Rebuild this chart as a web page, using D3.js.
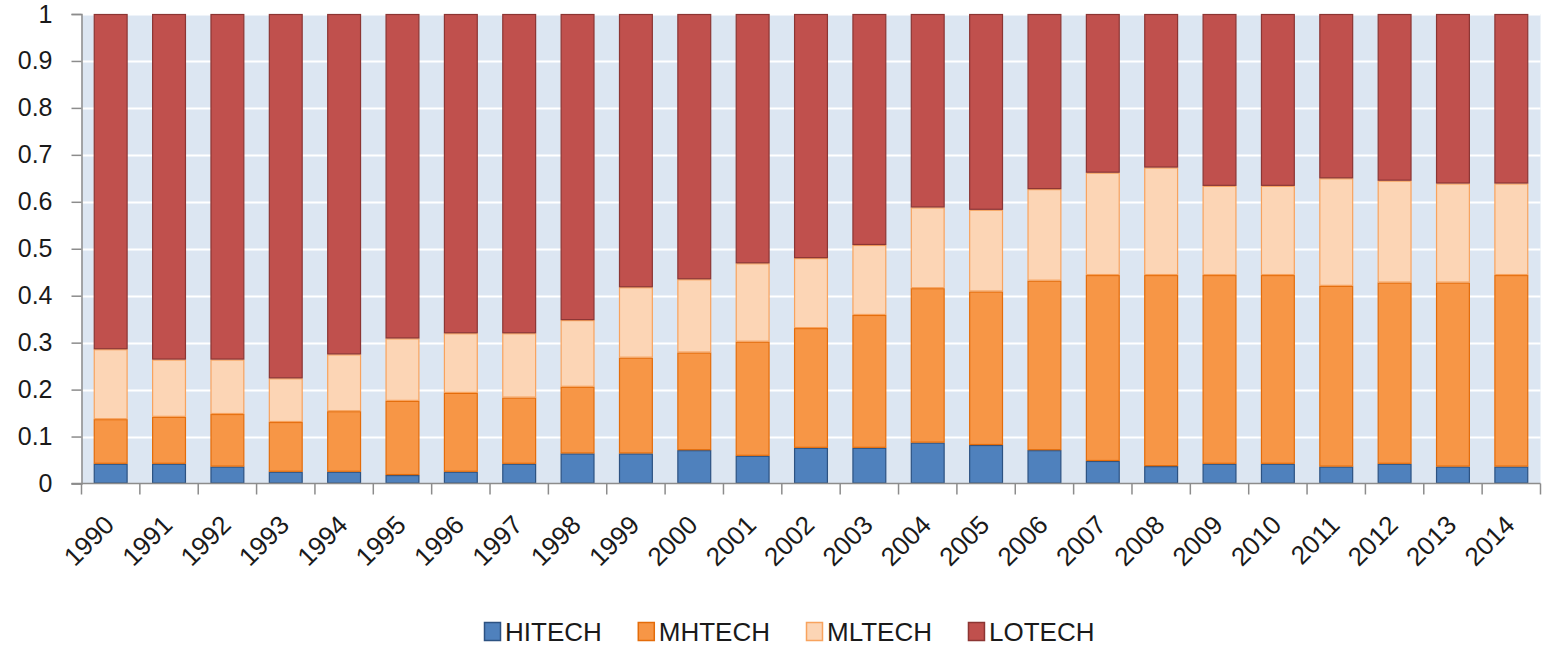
<!DOCTYPE html>
<html>
<head>
<meta charset="utf-8">
<script src="https://cdn.jsdelivr.net/npm/d3@7"></script>
<style>
	body { margin: 0; background: #ffffff; }
	svg text { font-family: "Liberation Sans", Arial, sans-serif; fill: #1a1a1a; }
</style>
</head>
<body>
<div id="chart"></div>
<script>
// Stacked share of manufacturing output by technology class, 1990-2014.
// Values; each year sums to 1.

var years = ['1990','1991','1992','1993','1994','1995','1996','1997','1998','1999',
			 '2000','2001','2002','2003','2004','2005','2006','2007','2008','2009',
			 '2010','2011','2012','2013','2014'];

var series_names = ['HITECH', 'MHTECH', 'MLTECH', 'LOTECH'];

var hitech = [0.042, 0.042, 0.036, 0.025, 0.025, 0.018, 0.025, 0.042, 0.064, 0.064,
			  0.071, 0.059, 0.076, 0.076, 0.087, 0.082, 0.071, 0.048, 0.037, 0.042,
			  0.042, 0.036, 0.042, 0.036, 0.036];
var mhtech = [0.095, 0.100, 0.112, 0.106, 0.129, 0.158, 0.168, 0.141, 0.142, 0.204,
			  0.208, 0.243, 0.255, 0.283, 0.329, 0.327, 0.361, 0.396, 0.407, 0.402,
			  0.402, 0.385, 0.386, 0.392, 0.408];
var mltech = [0.149, 0.122, 0.116, 0.093, 0.121, 0.133, 0.127, 0.137, 0.142, 0.150,
			  0.156, 0.167, 0.149, 0.149, 0.172, 0.174, 0.195, 0.218, 0.229, 0.190,
			  0.190, 0.229, 0.217, 0.211, 0.195];
var lotech = [0.714, 0.736, 0.736, 0.776, 0.725, 0.691, 0.680, 0.680, 0.652, 0.582,
			  0.565, 0.531, 0.520, 0.492, 0.412, 0.417, 0.373, 0.338, 0.327, 0.366,
			  0.366, 0.350, 0.355, 0.361, 0.361];

var y_ticks = [0, 0.1, 0.2, 0.3, 0.4, 0.5, 0.6, 0.7, 0.8, 0.9, 1];
var y_tick_labels = ['0', '0.1', '0.2', '0.3', '0.4', '0.5', '0.6', '0.7', '0.8', '0.9', '1'];

// Fill / outline per series (Office 2007 palette)
var fills   = ['#4f81bd', '#f79646', '#fcd5b5', '#c0504d'];
var strokes = ['#2c5282', '#e46c0a', '#f8a35e', '#8c3533'];

var width = 1543,
	height = 649;

// Plot area
var plot = { left: 81.5, right: 1540.5, top: 14, bottom: 483.5 };

var svg = d3.select('#chart').append('svg')
	.attr('width', width)
	.attr('height', height);

// Build row records for d3.stack
var rows = years.map(function(yr, i) {
	return { year: yr, HITECH: hitech[i], MHTECH: mhtech[i], MLTECH: mltech[i], LOTECH: lotech[i] };
});

var stacked = d3.stack().keys(series_names)(rows);

var x = d3.scaleBand()
	.domain(years)
	.range([plot.left, plot.right])
	.paddingInner(0.42)
	.paddingOuter(0.21);

var y = d3.scaleLinear()
	.domain([0, 1])
	.range([plot.bottom, plot.top]);

// background of plot area
svg.append('rect')
	.attr('x', plot.left)
	.attr('y', plot.top)
	.attr('width', plot.right - plot.left)
	.attr('height', plot.bottom - plot.top)
	.attr('fill', '#dce6f2');

// white horizontal gridlines
svg.append('g')
	.selectAll('line')
	.data(y_ticks.slice(1))
	.enter()
		.append('line')
		.attr('x1', plot.left)
		.attr('x2', plot.right)
		.attr('y1', function(d) { return Math.round(y(d)) + 0.5; })
		.attr('y2', function(d) { return Math.round(y(d)) + 0.5; })
		.style('stroke', '#ffffff')
		.style('stroke-width', '2px');

// bars
var layers = svg.append('g').selectAll('g.layer')
	.data(stacked)
	.enter()
		.append('g')
		.attr('class', 'layer')
		.attr('fill', function(d, i) { return fills[i]; })
		.attr('stroke', function(d, i) { return strokes[i]; });

layers.selectAll('rect')
	.data(function(d) { return d; })
	.enter()
		.append('rect')
		.attr('x', function(d) { return x(d.data.year) + 0.5; })
		.attr('width', x.bandwidth() - 1)
		.attr('y', function(d) { return y(d[1]) + 0.5; })
		.attr('height', function(d) { return Math.max(0, y(d[0]) - y(d[1]) - 1); })
		.style('stroke-width', '1.2px');

// y axis
var yAxis = d3.axisLeft(y)
	.tickValues(y_ticks)
	.tickFormat(function(d, i) { return y_tick_labels[i]; })
	.tickSize(10)
	.tickPadding(19);

var gy = svg.append('g')
	.attr('transform', 'translate(' + plot.left + ',0)')
	.call(yAxis);
gy.selectAll('text').style('font-size', '25px');

// x axis: ticks sit on the category boundaries, so draw them by hand from the band scale
var gx = svg.append('g');
gx.append('line')
	.attr('x1', plot.left - 10)
	.attr('x2', plot.right)
	.attr('y1', plot.bottom)
	.attr('y2', plot.bottom);
gx.selectAll('line.tick')
	.data(years.concat(['end']))
	.enter()
		.append('line')
		.attr('class', 'tick')
		.attr('x1', function(d, i) { return i < years.length ? x(d) - x.step() * x.paddingOuter() : plot.right; })
		.attr('x2', function(d, i) { return i < years.length ? x(d) - x.step() * x.paddingOuter() : plot.right; })
		.attr('y1', plot.bottom)
		.attr('y2', plot.bottom + 11);
gx.selectAll('line').style('stroke', '#8c8c8c').style('stroke-width', '1.5px');
gy.select('.domain').style('stroke', '#8c8c8c').style('stroke-width', '1.5px');
gy.selectAll('.tick line').style('stroke', '#8c8c8c').style('stroke-width', '1.5px');

gx.selectAll('text')
	.data(years)
	.enter()
		.append('text')
		.attr('text-anchor', 'end')
		.attr('transform', function(d) {
			var cx = x(d) + x.bandwidth() / 2 + 5;
			return 'translate(' + cx + ',' + (plot.bottom + 43) + ') rotate(-45)';
		})
		.style('font-size', '26px')
		.text(function(d) { return d; });

// legend
var legend = svg.append('g').attr('transform', 'translate(484,0)');
var lx = 0;
series_names.forEach(function(name, i) {
	var g = legend.append('g').attr('transform', 'translate(' + lx + ',0)');
	g.append('rect')
		.attr('x', 0.5)
		.attr('y', 622.5)
		.attr('width', 16)
		.attr('height', 18)
		.attr('fill', fills[i])
		.attr('stroke', strokes[i])
		.attr('stroke-width', 1.5);
	var t = g.append('text')
		.attr('x', 21)
		.attr('y', 641)
		.style('font-size', '26px')
		.text(name);
	lx += 21 + t.node().getComputedTextLength() + 36;
});
</script>
</body>
</html>
